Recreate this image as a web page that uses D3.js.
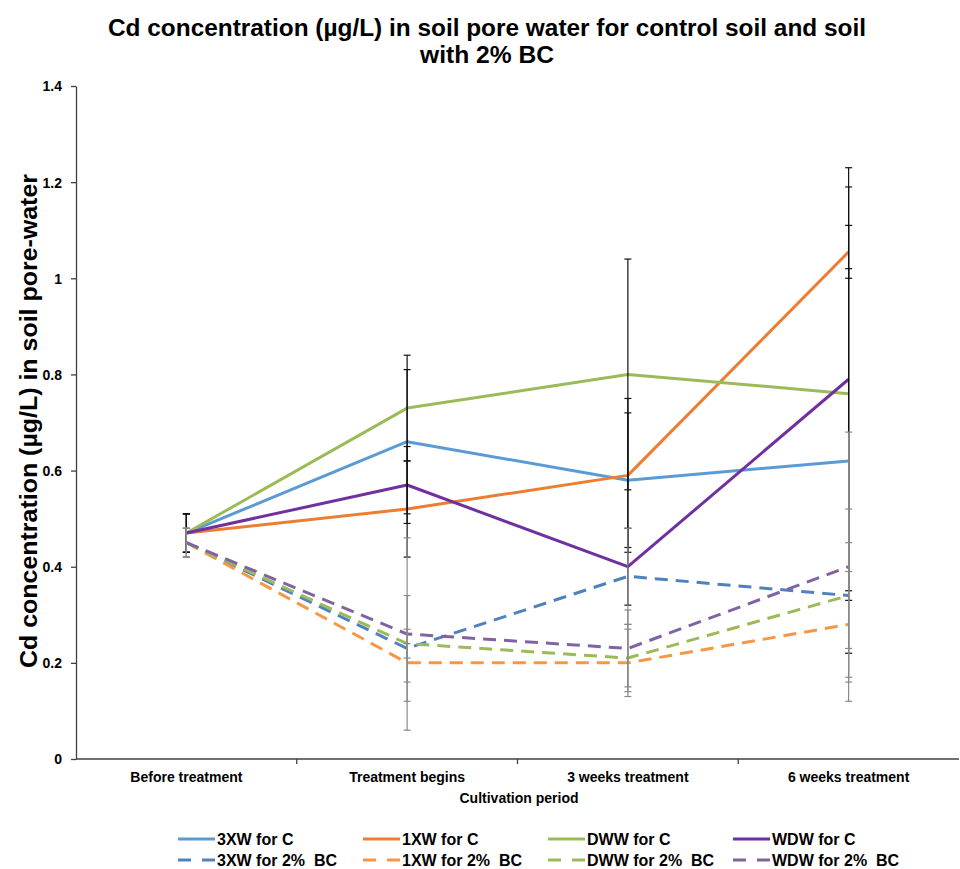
<!DOCTYPE html>
<html>
<head>
<meta charset="utf-8">
<script src="https://cdn.jsdelivr.net/npm/d3@7"></script>
<style>
  html, body { margin: 0; padding: 0; background: #fff; }
  svg text { font-family: "Liberation Sans", Arial, sans-serif; font-weight: bold; fill: #000; white-space: pre; }
</style>
</head>
<body>
<svg id="chart" width="960" height="869"></svg>
<script>
// Sampling points along the cultivation period
const categories = ["Before treatment", "Treatment begins", "3 weeks treatment", "6 weeks treatment"];

// Cd concentration (µg/L), control soil
const xw3C = [0.47, 0.66, 0.58, 0.62];
const xw1C = [0.47, 0.52, 0.59, 1.055];
const dwwC = [0.47, 0.73, 0.80, 0.76];
const wdwC = [0.47, 0.57, 0.40, 0.79];

// Cd concentration (µg/L), soil with 2% BC
const xw3BC = [0.45, 0.23, 0.38, 0.34];
const xw1BC = [0.45, 0.20, 0.20, 0.28];
const dwwBC = [0.45, 0.24, 0.21, 0.34];
const wdwBC = [0.45, 0.26, 0.23, 0.40];

// Standard deviations (±)
const xw3CErr = [0.04, 0.15, 0.14, 0.40];
const xw1CErr = [0.04, 0.10, 0.16, 0.055];
const dwwCErr = [0.04, 0.11, 0.24, 0.43];
const wdwCErr = [0.04, 0.08, 0.08, 0.44];
const xw3BCErr = [0.03, 0.11, 0.10, 0.18];
const xw1BCErr = [0.03, 0.04, 0.07, 0.11];
const dwwBCErr = [0.03, 0.03, 0.07, 0.11];
const wdwBCErr = [0.03, 0.20, 0.08, 0.28];

const seriesNames = ["3XW for C", "1XW for C", "DWW for C", "WDW for C",
                     "3XW for 2%  BC", "1XW for 2%  BC", "DWW for 2%  BC", "WDW for 2%  BC"];
const yTicks = [0, 0.2, 0.4, 0.6, 0.8, 1.0, 1.2, 1.4];

const series = [
  { name: seriesNames[0], values: xw3C, err: xw3CErr, color: "#5B9BD5", dashed: false },
  { name: seriesNames[1], values: xw1C, err: xw1CErr, color: "#ED7D31", dashed: false },
  { name: seriesNames[2], values: dwwC, err: dwwCErr, color: "#9BBB59", dashed: false },
  { name: seriesNames[3], values: wdwC, err: wdwCErr, color: "#7030A0", dashed: false },
  { name: seriesNames[4], values: xw3BC, err: xw3BCErr, color: "#4F81BD", dashed: true },
  { name: seriesNames[5], values: xw1BC, err: xw1BCErr, color: "#F79646", dashed: true },
  { name: seriesNames[6], values: dwwBC, err: dwwBCErr, color: "#9BBB59", dashed: true },
  { name: seriesNames[7], values: wdwBC, err: wdwBCErr, color: "#8064A2", dashed: true }
];

const svg = d3.select("#chart");
const plot = { left: 76, right: 959, top: 86, bottom: 759 };

const x = d3.scaleBand().domain(categories).range([plot.left, plot.right]);
const y = d3.scaleLinear().domain([0, 1.4]).range([plot.bottom, plot.top]);
const cx = c => x(c) + x.bandwidth() / 2;

// Title (narrow bold face)
const title = svg.append("text").attr("text-anchor", "middle").style("font-size", "23px");
title.append("tspan").attr("x", 487).attr("y", 36)
  .attr("textLength", 758).attr("lengthAdjust", "spacingAndGlyphs")
  .text("Cd concentration (µg/L) in soil pore water for control soil and soil");
title.append("tspan").attr("x", 487).attr("y", 63)
  .attr("textLength", 134).attr("lengthAdjust", "spacingAndGlyphs")
  .text("with 2% BC");

// Y axis
const yAxis = svg.append("g").attr("transform", `translate(${plot.left},0)`)
  .call(d3.axisLeft(y).tickValues(yTicks).tickSize(5).tickSizeOuter(0)
    .tickFormat(d => String(+d.toFixed(1))));
yAxis.select(".domain").attr("stroke", "#404040").attr("stroke-width", 1.3);
yAxis.selectAll(".tick line").attr("stroke", "#404040").attr("stroke-width", 1.3);
yAxis.selectAll(".tick text").attr("x", -14).attr("dy", "0.35em")
  .style("font-size", "14px").style("font-family", "'Liberation Sans', Arial, sans-serif");

// X axis: ticks sit between categories
const xAxis = svg.append("g").attr("transform", `translate(0,${plot.bottom})`);
xAxis.append("line").attr("x1", plot.left).attr("x2", plot.right)
  .attr("stroke", "#404040").attr("stroke-width", 1.3);
categories.slice(1).forEach(c => {
  xAxis.append("line").attr("x1", x(c)).attr("x2", x(c)).attr("y1", 0).attr("y2", 5)
    .attr("stroke", "#404040").attr("stroke-width", 1.3);
});
categories.forEach(c => {
  xAxis.append("text").attr("x", cx(c)).attr("y", 23).attr("text-anchor", "middle")
    .style("font-size", "14px").text(c);
});

// Axis titles
svg.append("text").attr("x", 519).attr("y", 803).attr("text-anchor", "middle")
  .style("font-size", "14px").text("Cultivation period");
svg.append("text").attr("transform", "translate(37,421) rotate(-90)")
  .attr("text-anchor", "middle").style("font-size", "24px")
  .attr("textLength", 494).attr("lengthAdjust", "spacingAndGlyphs")
  .text("Cd concentration (µg/L) in soil pore-water");

// Lines
const line = d3.line().x((d, i) => cx(categories[i])).y(d => y(d));
series.forEach(s => {
  svg.append("path").datum(s.values).attr("d", line)
    .attr("fill", "none").attr("stroke", s.color).attr("stroke-width", 3)
    .attr("stroke-linejoin", "round")
    .attr("stroke-dasharray", s.dashed ? "13,8" : null);
});

// Error bars: control soil in black, 2% BC in grey drawn above
const cap = 3.5;
series.forEach(s => {
  const col = s.dashed ? "#8a8a8a" : "#111";
  const g = svg.append("g").attr("stroke", col).attr("stroke-width", 1.2);
  s.values.forEach((v, i) => {
    const xc = cx(categories[i]);
    const hi = y(v + s.err[i]), lo = y(v - s.err[i]);
    g.append("line").attr("x1", xc).attr("x2", xc).attr("y1", hi).attr("y2", lo);
    g.append("line").attr("x1", xc - cap).attr("x2", xc + cap).attr("y1", hi).attr("y2", hi);
    g.append("line").attr("x1", xc - cap).attr("x2", xc + cap).attr("y1", lo).attr("y2", lo);
  });
});

// Legend: two rows of four
const legendX = [178, 363, 548, 733];
const legendY = [839, 860];
series.forEach((s, i) => {
  const lx = legendX[i % 4], ly = legendY[Math.floor(i / 4)];
  svg.append("line").attr("x1", lx).attr("x2", lx + 37).attr("y1", ly).attr("y2", ly)
    .attr("stroke", s.color).attr("stroke-width", 3)
    .attr("stroke-dasharray", s.dashed ? "13,11" : null);
  svg.append("text").attr("x", lx + 39).attr("y", ly + 5.5)
    .style("font-size", "16px").text(s.name);
});
</script>
</body>
</html>
